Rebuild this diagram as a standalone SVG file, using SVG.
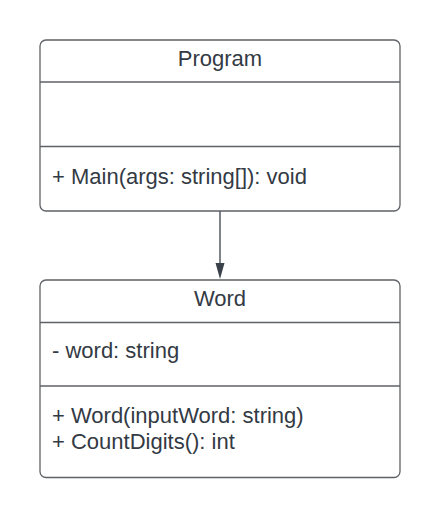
<svg xmlns="http://www.w3.org/2000/svg" width="440" height="518" viewBox="0 0 440 518">
<style>
.box{fill:#ffffff;stroke:#5e6166;stroke-width:1.3}
.div{stroke:#5e6166;stroke-width:1.3}
.t{font-family:"Liberation Sans",Arial,sans-serif;font-size:22px;fill:#333a44}
.c{text-anchor:middle}
</style>
<rect width="440" height="518" fill="#ffffff"/>
<g id="connectors">
<line x1="220" y1="211" x2="220" y2="264" stroke="#3a414a" stroke-width="1.3"/>
<path d="M215.5,263 L224.5,263 L220,279 Z" fill="#3a414a"/>
</g>
<g id="Program">
<rect class="box" x="40" y="40" width="360" height="171" rx="6"/>
<line class="div" x1="40" y1="82" x2="400" y2="82"/>
<line class="div" x1="40" y1="146.5" x2="400" y2="146.5"/>
<text class="t c" x="220" y="66">Program</text>
<text class="t" x="52" y="184">+ Main(args: string[]): void</text>
</g>
<g id="Word">
<rect class="box" x="40" y="280" width="360" height="197.5" rx="6"/>
<line class="div" x1="40" y1="322.5" x2="400" y2="322.5"/>
<line class="div" x1="40" y1="386" x2="400" y2="386"/>
<text class="t c" x="220" y="306">Word</text>
<text class="t" x="52" y="358">- word: string</text>
<text class="t" x="52" y="422.5">+ Word(inputWord: string)</text>
<text class="t" x="52" y="449">+ CountDigits(): int</text>
</g>
</svg>
